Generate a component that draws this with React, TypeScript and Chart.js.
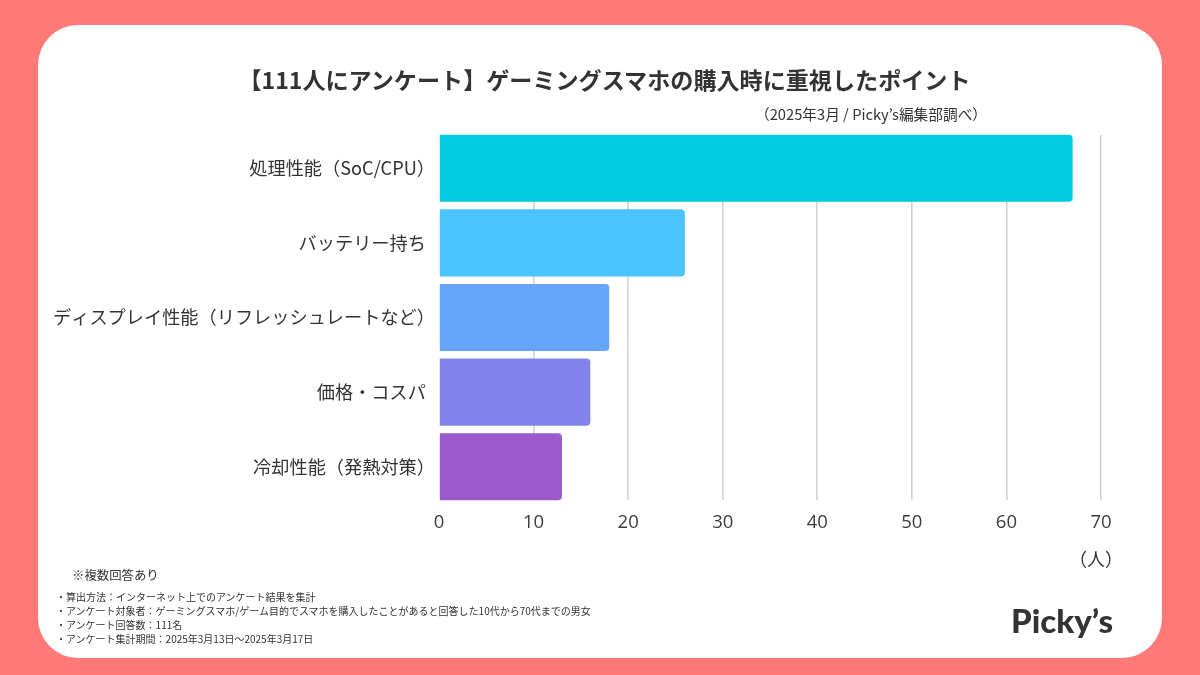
import { useEffect, useRef } from "react"
import { Chart, registerables } from "chart.js"

Chart.register(...registerables)

const categories = [
  "処理性能（SoC/CPU）",
  "バッテリー持ち",
  "ディスプレイ性能（リフレッシュレートなど）",
  "価格・コスパ",
  "冷却性能（発熱対策）",
]
const values = [67, 26, 18, 16, 13]
const barColors = ["#00cbe0", "#4bc3ff", "#66a6fa", "#7f83ea", "#9b59cb"]
const footnotes = [
  "・算出方法：インターネット上でのアンケート結果を集計",
  "・アンケート対象者：ゲーミングスマホ/ゲーム目的でスマホを購入したことがあると回答した10代から70代までの男女",
  "・アンケート回答数：111名",
  "・アンケート集計期間：2025年3月13日～2025年3月17日",
]

const JP = '"Noto Sans CJK JP", "Noto Sans", sans-serif'
const textBase = { position: "absolute", color: "#333", fontFamily: JP, whiteSpace: "nowrap", lineHeight: 1 } as const

// grid lines only run between the top of the first bar and the bottom of the last
const trimGrid = {
  id: "trimGrid",
  beforeDatasetsDraw(chart: Chart) {
    const bars = chart.getDatasetMeta(0).data as any[]
    const { left, right, top, bottom } = chart.chartArea
    const first = bars[0]
    const last = bars[bars.length - 1]
    const w = right - left + 4
    chart.ctx.clearRect(left - 2, top - 2, w, first.y - first.height / 2 - top + 2)
    const lastEnd = last.y + last.height / 2
    chart.ctx.clearRect(left - 2, lastEnd, w, bottom - lastEnd + 2)
  },
}

export default function App() {
  const canvasRef = useRef<HTMLCanvasElement>(null)

  useEffect(() => {
    document.body.style.margin = "0"
    if (!canvasRef.current) return
    const chart = new Chart(canvasRef.current, {
      type: "bar",
      data: {
        labels: categories,
        datasets: [
          {
            data: values,
            backgroundColor: barColors,
            barPercentage: 0.9,
            categoryPercentage: 1,
            borderRadius: { topRight: 4, bottomRight: 4, topLeft: 0, bottomLeft: 0 },
            borderSkipped: false,
          },
        ],
      },
      plugins: [trimGrid],
      options: {
        indexAxis: "y",
        responsive: false,
        animation: false,
        layout: { padding: { top: 131, right: 99, bottom: 0, left: 0 } },
        plugins: { legend: { display: false }, title: { display: false }, tooltip: { enabled: false } },
        scales: {
          x: {
            min: 0,
            max: 70,
            afterFit: (scale) => {
              scale.height = 171
            },
            grid: {
              color: (ctx) => (ctx.tick && ctx.tick.value === 0 ? "rgba(0,0,0,0)" : "#d2d2d2"),
              lineWidth: 1.6,
              drawTicks: false,
            },
            border: { display: false },
            ticks: {
              stepSize: 10,
              padding: 8,
              color: "#3c3c3c",
              font: { family: '"Open Sans", sans-serif', size: 18.5 },
              maxRotation: 0,
            },
          },
          y: {
            afterFit: (scale) => {
              scale.width = 439
            },
            grid: { display: false },
            border: { display: false },
            ticks: {
              // the closing bracket's blank half sits past the axis, plain labels get a space instead
              padding: -4,
              color: "#333",
              font: { family: JP, size: 18.2, weight: 400 },
              autoSkip: false,
              callback: (_v, i) => (categories[i].endsWith("）") ? categories[i] : categories[i] + "\u2002"),
            },
          },
        },
      },
    })
    return () => chart.destroy()
  }, [])

  return (
    <div style={{ position: "relative", width: 1200, height: 675, background: "#ff7976", overflow: "hidden" }}>
      <div style={{ position: "absolute", left: 38, top: 25, width: 1124, height: 633, background: "#fff", borderRadius: 40 }} />
      <canvas ref={canvasRef} width={1200} height={675} style={{ position: "absolute", left: 0, top: 0 }} />
      <div style={{ ...textBase, left: 0, width: 1209, textAlign: "center", top: 68, fontSize: 23.1, fontWeight: 700 }}>
        【111人にアンケート】ゲーミングスマホの購入時に重視したポイント
      </div>
      <div style={{ ...textBase, left: 755, top: 107, fontSize: 14.7 }}>（2025年3月 / Picky’s編集部調べ）</div>
      <div style={{ ...textBase, left: 1069, top: 549, fontSize: 18 }}>（人）</div>
      <div style={{ ...textBase, left: 72, top: 569, fontSize: 12.4 }}>※複数回答あり</div>
      {footnotes.map((line, i) => (
        <div key={line} style={{ ...textBase, left: 56, top: 592 + i * 14, fontSize: 10 }}>
          {line}
        </div>
      ))}
      <div style={{ ...textBase, left: 1011, top: 604, fontSize: 33, fontWeight: 900, fontFamily: "Lato, sans-serif" }}>Picky’s</div>
    </div>
  )
}
